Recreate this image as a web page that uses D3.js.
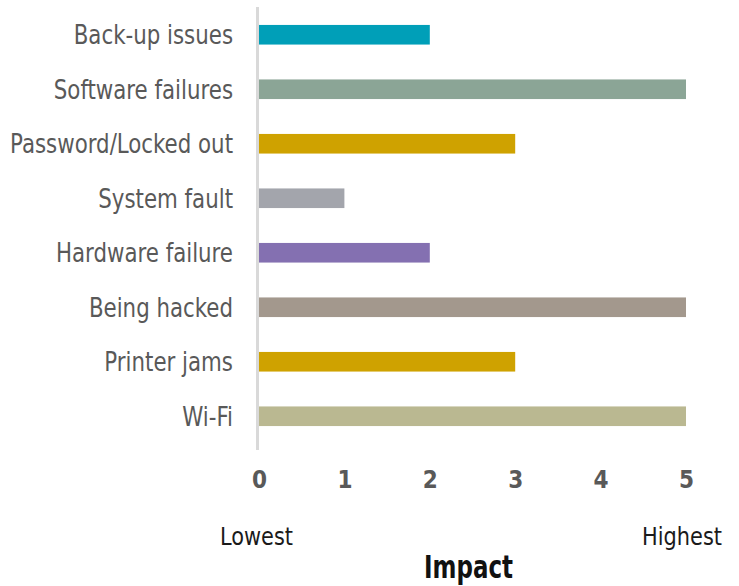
<!DOCTYPE html>
<html>
<head>
<meta charset="utf-8">
<script src="https://cdn.jsdelivr.net/npm/d3@7"></script>
<style>
  html, body { margin: 0; padding: 0; background: #fff; }
  svg { display: block; }
</style>
</head>
<body>
<svg id="chart" width="739" height="586"></svg>
<script>
const categories = ["Back-up issues", "Software failures", "Password/Locked out", "System fault",
  "Hardware failure", "Being hacked", "Printer jams", "Wi-Fi"];
const values = [2, 5, 3, 1, 2, 5, 3, 5];
const colors = ["#009FB8", "#8BA596", "#CFA200", "#A3A5AC", "#8470B1", "#A3988D", "#CFA200", "#BAB891"];
const tickValues = [0, 1, 2, 3, 4, 5];
const axisTitle = "Impact";
const lowLabel = "Lowest";
const highLabel = "Highest";

const svg = d3.select("#chart");
const narrow = "'DejaVu Sans Condensed', 'Liberation Sans Narrow', sans-serif";

const x = d3.scaleLinear().domain([0, 5]).range([259, 686]);
const y = d3.scaleBand().domain(categories).range([7.5, 443.5]).paddingInner(0.64).paddingOuter(0.32);

// horizontal compression helper (condensed look), anchored at the text's own x
function squeeze(sel, factor) {
  sel.each(function () {
    const t = d3.select(this);
    const ax = +t.attr("x") || 0;
    t.attr("transform", `translate(${ax},0) scale(${factor},1) translate(${-ax},0)`);
  });
}
function fitWidth(sel, target) {
  const w = sel.node().getComputedTextLength();
  squeeze(sel, target / w);
}

// bars
svg.append("g").selectAll("rect").data(categories).join("rect")
  .attr("x", x(0))
  .attr("y", d => y(d))
  .attr("width", (d, i) => x(values[i]) - x(0))
  .attr("height", y.bandwidth())
  .attr("fill", (d, i) => colors[i]);

// vertical axis line
svg.append("line")
  .attr("x1", x(0) - 1.5).attr("x2", x(0) - 1.5)
  .attr("y1", 7).attr("y2", 450)
  .attr("stroke", "#d9d9d9").attr("stroke-width", 3);

// category labels
const yAxis = d3.axisLeft(y).tickSize(0).tickPadding(0);
const gy = svg.append("g").attr("transform", `translate(${233},0)`).call(yAxis);
gy.select(".domain").remove();
const labels = gy.selectAll("text")
  .attr("font-family", narrow)
  .attr("font-size", 27)
  .attr("fill", "#595959")
  .attr("dy", "0.36em");
let maxW = 0;
labels.each(function () { maxW = Math.max(maxW, this.getComputedTextLength()); });
squeeze(labels, 223 / maxW);

// x tick labels
const xAxis = d3.axisBottom(x).tickValues(tickValues).tickSize(0).tickPadding(0).tickFormat(d3.format("d"));
const gx = svg.append("g").attr("transform", `translate(0,${488})`).call(xAxis);
gx.select(".domain").remove();
gx.selectAll("text")
  .attr("font-family", narrow)
  .attr("font-weight", "bold")
  .attr("font-size", 24)
  .attr("fill", "#595959")
  .attr("dy", 0);

// Lowest / Highest
const lo = svg.append("text").attr("x", 220).attr("y", 545)
  .attr("font-family", narrow).attr("font-size", 25).attr("fill", "#1a1a1a")
  .text(lowLabel);
fitWidth(lo, 73);
const hi = svg.append("text").attr("x", 722).attr("y", 545).attr("text-anchor", "end")
  .attr("font-family", narrow).attr("font-size", 25).attr("fill", "#1a1a1a")
  .text(highLabel);
fitWidth(hi, 80);

// title
const ti = svg.append("text").attr("x", 468.5).attr("y", 578).attr("text-anchor", "middle")
  .attr("font-family", narrow).attr("font-weight", "bold").attr("font-size", 32).attr("fill", "#111")
  .text(axisTitle);
fitWidth(ti, 89);
</script>
</body>
</html>
